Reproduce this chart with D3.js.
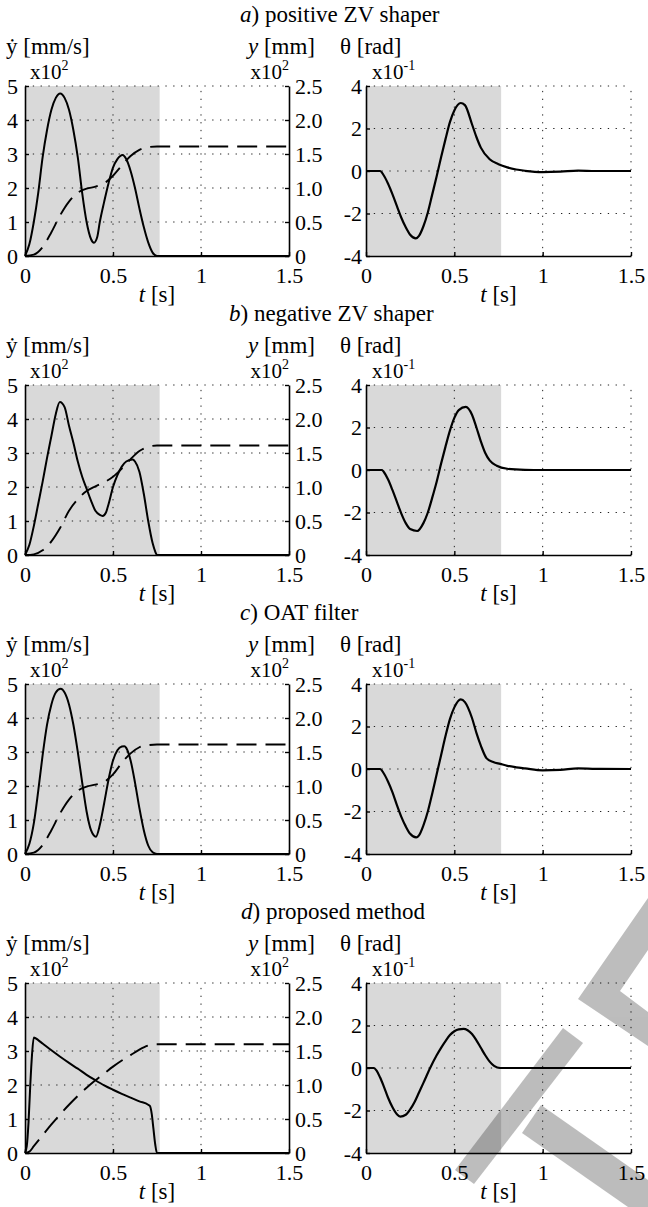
<!DOCTYPE html>
<html>
<head>
<meta charset="utf-8">
<script src="https://cdn.jsdelivr.net/npm/d3@7"></script>
<style>
  body { margin: 0; background: #fff; }
  svg { display: block; }
  svg text { font-family: "Liberation Serif", "Times New Roman", serif !important; fill: #000; }
</style>
</head>
<body>
<script>
'use strict';

// panel titles (letter is italic)
const titleLetters = ["a", "b", "c", "d"];
const titleTexts = [") positive ZV shaper", ") negative ZV shaper", ") OAT filter", ") proposed method"];

// tick values
const timeTicks = [0, 0.5, 1, 1.5];
const velTicks = [0, 1, 2, 3, 4, 5];
const posTicks = [0, 0.5, 1.0, 1.5, 2.0, 2.5];
const angTicks = [-4, -2, 0, 2, 4];

// end of the shaded (input) interval [s]
const shadeEnd = 0.765;

// a) positive ZV shaper
const velTimeA = [0, 0.025, 0.05, 0.075, 0.1, 0.125, 0.15, 0.175, 0.2, 0.225, 0.25, 0.275, 0.3, 0.325, 0.35, 0.375, 0.392, 0.41, 0.425, 0.45, 0.475, 0.5, 0.525, 0.555, 0.575, 0.6, 0.625, 0.65, 0.675, 0.7, 0.725, 0.75, 1.5];
const velA = [0, 0.35, 1.0, 1.85, 2.9, 3.7, 4.3, 4.65, 4.78, 4.65, 4.3, 3.7, 2.9, 1.85, 1.0, 0.5, 0.39, 0.55, 1.0, 1.6, 2.15, 2.6, 2.85, 2.97, 2.85, 2.5, 2.0, 1.4, 0.85, 0.4, 0.1, 0, 0];
const posTimeA = [0, 0.05, 0.1, 0.15, 0.2, 0.25, 0.3, 0.35, 0.4, 0.45, 0.5, 0.55, 0.6, 0.65, 0.7, 0.75, 1.5];
const posA = [0, 0.02, 0.13, 0.35, 0.6, 0.8, 0.93, 0.99, 1.02, 1.07, 1.18, 1.33, 1.47, 1.56, 1.6, 1.61, 1.61];
const angTimeA = [0, 0.05, 0.08, 0.1, 0.125, 0.15, 0.175, 0.2, 0.225, 0.25, 0.282, 0.3, 0.325, 0.35, 0.375, 0.4, 0.425, 0.45, 0.475, 0.5, 0.536, 0.56, 0.6, 0.625, 0.65, 0.7, 0.75, 0.8, 0.85, 0.9, 1.0, 1.1, 1.2, 1.3, 1.5];
const angA = [0, 0, 0, -0.2, -0.6, -1.1, -1.65, -2.2, -2.65, -3.0, -3.17, -3.05, -2.6, -1.95, -1.1, -0.25, 0.65, 1.5, 2.3, 2.85, 3.2, 3.1, 2.2, 1.6, 1.1, 0.55, 0.32, 0.17, 0.07, 0.01, -0.05, -0.03, 0.02, 0, 0];

// b) negative ZV shaper
const velTimeB = [0, 0.025, 0.05, 0.075, 0.1, 0.125, 0.15, 0.175, 0.198, 0.225, 0.25, 0.275, 0.3, 0.325, 0.35, 0.375, 0.4, 0.425, 0.441, 0.46, 0.475, 0.5, 0.525, 0.55, 0.575, 0.612, 0.625, 0.65, 0.675, 0.7, 0.725, 0.74, 0.75, 1.5];
const velB = [0, 0.3, 0.85, 1.5, 2.15, 2.85, 3.5, 4.15, 4.5, 4.35, 3.8, 3.3, 2.75, 2.3, 1.95, 1.6, 1.3, 1.18, 1.15, 1.25, 1.5, 2.0, 2.35, 2.6, 2.75, 2.81, 2.75, 2.45, 1.8, 1.0, 0.35, 0.1, 0, 0];
const posTimeB = [0, 0.05, 0.1, 0.15, 0.2, 0.25, 0.3, 0.35, 0.4, 0.45, 0.5, 0.55, 0.6, 0.65, 0.7, 0.75, 1.5];
const posB = [0, 0.01, 0.07, 0.2, 0.4, 0.65, 0.82, 0.94, 1.01, 1.07, 1.15, 1.27, 1.41, 1.53, 1.59, 1.61, 1.61];
const angTimeB = [0, 0.05, 0.09, 0.1, 0.125, 0.15, 0.175, 0.2, 0.225, 0.25, 0.29, 0.325, 0.35, 0.375, 0.4, 0.425, 0.45, 0.475, 0.5, 0.525, 0.565, 0.6, 0.625, 0.65, 0.675, 0.7, 0.74, 0.8, 0.9, 1.0, 1.5];
const angB = [0, 0, 0, -0.08, -0.45, -0.95, -1.5, -2.05, -2.5, -2.78, -2.87, -2.5, -2.0, -1.3, -0.55, 0.3, 1.1, 1.85, 2.45, 2.82, 2.97, 2.6, 2.0, 1.35, 0.8, 0.45, 0.2, 0.06, 0.01, 0, 0];

// c) OAT filter
const velTimeC = [0, 0.025, 0.05, 0.075, 0.1, 0.125, 0.15, 0.175, 0.203, 0.225, 0.25, 0.275, 0.3, 0.325, 0.35, 0.375, 0.403, 0.425, 0.45, 0.475, 0.5, 0.525, 0.55, 0.565, 0.575, 0.6, 0.625, 0.65, 0.675, 0.7, 0.725, 0.75, 1.5];
const velC = [0, 0.3, 0.9, 1.85, 2.9, 3.8, 4.4, 4.75, 4.86, 4.75, 4.4, 3.8, 3.0, 2.1, 1.25, 0.7, 0.51, 0.85, 1.5, 2.2, 2.75, 3.05, 3.16, 3.17, 3.12, 2.75, 2.1, 1.35, 0.7, 0.25, 0.05, 0, 0];
const posTimeC = [0, 0.05, 0.1, 0.15, 0.2, 0.25, 0.3, 0.35, 0.4, 0.45, 0.5, 0.55, 0.6, 0.65, 0.7, 0.75, 1.5];
const posC = [0, 0.02, 0.13, 0.35, 0.6, 0.8, 0.93, 0.99, 1.02, 1.06, 1.17, 1.34, 1.48, 1.57, 1.6, 1.61, 1.61];
const angTimeC = [0, 0.05, 0.08, 0.1, 0.125, 0.15, 0.175, 0.2, 0.225, 0.25, 0.284, 0.3, 0.325, 0.35, 0.375, 0.4, 0.425, 0.45, 0.475, 0.5, 0.536, 0.56, 0.6, 0.625, 0.65, 0.683, 0.72, 0.76, 0.8, 0.85, 0.9, 1.0, 1.1, 1.2, 1.3, 1.5];
const angC = [0, 0, 0, -0.2, -0.6, -1.1, -1.7, -2.25, -2.7, -3.05, -3.22, -3.12, -2.65, -2.0, -1.15, -0.25, 0.65, 1.55, 2.35, 2.9, 3.28, 3.15, 2.4, 1.7, 1.1, 0.5, 0.33, 0.24, 0.15, 0.08, 0.03, -0.06, -0.04, 0.03, 0.01, 0];

// d) proposed method
const velTimeD = [0, 0.01, 0.02, 0.03, 0.04, 0.05, 0.075, 0.1, 0.15, 0.2, 0.25, 0.3, 0.35, 0.4, 0.45, 0.5, 0.55, 0.6, 0.65, 0.7, 0.71, 0.72, 0.73, 0.74, 0.75, 1.5];
const velD = [0, 0.2, 0.9, 2.0, 2.9, 3.4, 3.32, 3.22, 3.02, 2.83, 2.65, 2.48, 2.3, 2.14, 1.99, 1.86, 1.74, 1.63, 1.52, 1.42, 1.38, 1.15, 0.7, 0.25, 0, 0];
const posTimeD = [0, 0.025, 0.05, 0.1, 0.15, 0.2, 0.25, 0.3, 0.35, 0.4, 0.45, 0.5, 0.55, 0.6, 0.65, 0.7, 0.75, 1.5];
const posD = [0, 0.02, 0.1, 0.26, 0.42, 0.57, 0.71, 0.84, 0.96, 1.07, 1.17, 1.27, 1.36, 1.44, 1.52, 1.58, 1.6, 1.6];
const angTimeD = [0, 0.043, 0.06, 0.08, 0.1, 0.125, 0.15, 0.175, 0.194, 0.225, 0.25, 0.275, 0.3, 0.325, 0.363, 0.4, 0.425, 0.45, 0.475, 0.5, 0.525, 0.552, 0.575, 0.6, 0.625, 0.65, 0.675, 0.7, 0.725, 0.76, 1.5];
const angD = [0, 0, -0.12, -0.45, -0.85, -1.4, -1.85, -2.18, -2.29, -2.2, -1.95, -1.6, -1.15, -0.7, 0, 0.6, 0.95, 1.27, 1.55, 1.73, 1.82, 1.84, 1.78, 1.6, 1.3, 0.95, 0.6, 0.3, 0.1, 0, 0];

// group the rows
const rows = [
  { vt: velTimeA, v: velA, pt: posTimeA, p: posA, at: angTimeA, a: angA },
  { vt: velTimeB, v: velB, pt: posTimeB, p: posB, at: angTimeB, a: angB },
  { vt: velTimeC, v: velC, pt: posTimeC, p: posC, at: angTimeC, a: angC },
  { vt: velTimeD, v: velD, pt: posTimeD, p: posD, at: angTimeD, a: angD }
];

// layout
const W = 648, H = 1207;
const rowTop = [86, 385, 684, 983];
const plotH = 170;
const leftX = [25, 289];
const rightX = [366, 631];
const titleX = [240, 229, 240, 241];
const serif = '"Liberation Serif", "Times New Roman", serif';
const tickFont = "22px";
const labelFont = "23px";

let svg = d3.select("body").append("svg")
  .attr("width", W)
  .attr("height", H)
  .attr("font-family", serif);

svg.append("rect").attr("width", W).attr("height", H).attr("fill", "#fff");

const zip = (ts, vs) => ts.map((t, i) => [t, vs[i]]);

// dotted MATLAB style grid
function drawGrid(g, x, y, xVals, yVals) {
  g.selectAll(".gx").data(xVals).enter().append("line")
    .attr("x1", x).attr("x2", x)
    .attr("y1", y.range()[0]).attr("y2", y.range()[1])
    .attr("stroke", "#222").attr("stroke-width", 1)
    .attr("stroke-dasharray", "1.3,6.5");
  g.selectAll(".gy").data(yVals).enter().append("line")
    .attr("x1", x.range()[0]).attr("x2", x.range()[1])
    .attr("y1", y).attr("y2", y)
    .attr("stroke", "#222").attr("stroke-width", 1)
    .attr("stroke-dasharray", "1.3,6.5");
}

function styleAxis(sel) {
  sel.attr("font-family", serif).attr("font-size", tickFont);
  sel.selectAll("path.domain").attr("stroke", "#000").attr("stroke-width", 1.6);
  sel.selectAll(".tick line").attr("stroke", "#000").attr("stroke-width", 1.4);
  sel.selectAll(".tick text")
    .style("font-family", serif)
    .style("font-size", tickFont)
    .attr("fill", "#000");
}

function supText(g, x, y, base, sup, anchor) {
  let t = g.append("text").attr("x", x).attr("y", y)
    .attr("text-anchor", anchor).style("font-size", "21px");
  t.append("tspan").text(base);
  t.append("tspan").attr("dy", -9).style("font-size", "14px").text(sup);
}

function xLabel(g, cx, y) {
  let t = g.append("text").attr("x", cx).attr("y", y)
    .attr("text-anchor", "middle").style("font-size", labelFont);
  t.append("tspan").style("font-style", "italic").text("t");
  t.append("tspan").text(" [s]");
}

function drawRow(r, i) {
  let top = rowTop[i];
  let bottom = top + plotH;
  let g = svg.append("g");

  // title
  let title = g.append("text").attr("x", titleX[i]).attr("y", top - 64)
    .style("font-size", labelFont);
  title.append("tspan").style("font-style", "italic").text(titleLetters[i]);
  title.append("tspan").text(titleTexts[i]);

  // ---------- left panel: velocity and position ----------
  let x = d3.scaleLinear().domain([0, 1.5]).range(leftX);
  let yV = d3.scaleLinear().domain([0, 5]).range([bottom, top]);
  let yP = d3.scaleLinear().domain([0, 2.5]).range([bottom, top]);

  g.append("rect")
    .attr("x", x(0)).attr("y", top)
    .attr("width", x(shadeEnd) - x(0)).attr("height", plotH)
    .attr("fill", "#d9d9d9");

  drawGrid(g, x, yV, [0.5, 1], [1, 2, 3, 4, 5]);

  let line = d3.line().x(d => x(d[0])).curve(d3.curveMonotoneX);

  g.append("path")
    .datum(zip(r.pt, r.p))
    .attr("d", line.y(d => yP(d[1])))
    .attr("fill", "none").attr("stroke", "#000").attr("stroke-width", 1.9)
    .attr("stroke-dasharray", "20,9");

  g.append("path")
    .datum(zip(r.vt, r.v))
    .attr("d", line.y(d => yV(d[1])))
    .attr("fill", "none").attr("stroke", "#000").attr("stroke-width", 2);

  let axB = g.append("g").attr("transform", `translate(0,${bottom})`)
    .call(d3.axisBottom(x).tickValues(timeTicks).tickSizeInner(-4).tickSizeOuter(0)
      .tickPadding(11).tickFormat(d => String(d)));
  styleAxis(axB);

  let axL = g.append("g").attr("transform", `translate(${leftX[0]},0)`)
    .call(d3.axisLeft(yV).tickValues(velTicks).tickSizeInner(-4).tickSizeOuter(0)
      .tickPadding(7).tickFormat(d => String(d)));
  styleAxis(axL);

  let axR = g.append("g").attr("transform", `translate(${leftX[1]},0)`)
    .call(d3.axisRight(yP).tickValues(posTicks).tickSizeInner(-4).tickSizeOuter(0)
      .tickPadding(6).tickFormat(d => d === 0 ? "0" : d3.format(".1f")(d)));
  styleAxis(axR);

  // axis labels
  g.append("text").attr("x", 6).attr("y", top - 32)
    .style("font-size", labelFont).text("\u1E8F [mm/s]");
  supText(g, 30, top - 7, "x10", "2", "start");

  let lp = g.append("text").attr("x", 315).attr("y", top - 32)
    .attr("text-anchor", "end").style("font-size", labelFont);
  lp.append("tspan").style("font-style", "italic").text("y");
  lp.append("tspan").text(" [mm]");
  supText(g, 289, top - 7, "x10", "2", "end");

  xLabel(g, (leftX[0] + leftX[1]) / 2, bottom + 46);

  // ---------- right panel: angle ----------
  let x2 = d3.scaleLinear().domain([0, 1.5]).range(rightX);
  let yA = d3.scaleLinear().domain([-4, 4]).range([bottom, top]);

  g.append("rect")
    .attr("x", x2(0)).attr("y", top)
    .attr("width", x2(shadeEnd) - x2(0)).attr("height", plotH)
    .attr("fill", "#d9d9d9");

  drawGrid(g, x2, yA, [0.5, 1, 1.5], [-2, 0, 2, 4]);

  let line2 = d3.line().x(d => x2(d[0])).y(d => yA(d[1])).curve(d3.curveMonotoneX);
  g.append("path")
    .datum(zip(r.at, r.a))
    .attr("d", line2)
    .attr("fill", "none").attr("stroke", "#000").attr("stroke-width", 2.2);

  let axB2 = g.append("g").attr("transform", `translate(0,${bottom})`)
    .call(d3.axisBottom(x2).tickValues(timeTicks).tickSizeInner(-4).tickSizeOuter(0)
      .tickPadding(11).tickFormat(d => String(d)));
  styleAxis(axB2);

  let axL2 = g.append("g").attr("transform", `translate(${rightX[0]},0)`)
    .call(d3.axisLeft(yA).tickValues(angTicks).tickSizeInner(-4).tickSizeOuter(0)
      .tickPadding(4).tickFormat(d => String(d)));
  styleAxis(axL2);

  g.append("text").attr("x", 340).attr("y", top - 32)
    .style("font-size", labelFont).text("\u03B8 [rad]");
  supText(g, 372, top - 7, "x10", "-1", "start");

  xLabel(g, (rightX[0] + rightX[1]) / 2, bottom + 46);
}

rows.forEach(drawRow);

// grey watermark in the lower right corner
const markA = [[455, 1170], [474, 1184], [583, 1043], [563, 1028]];
const markB = [[648, 898], [578, 999], [648, 1046], [648, 1012], [620, 991], [648, 950]];
const markC = [[541, 1105], [648, 1180], [648, 1207], [628, 1207], [522, 1133]];

svg.append("g").attr("opacity", 0.26)
  .selectAll("polygon").data([markA, markB, markC]).enter()
  .append("polygon")
  .attr("points", d => d.map(p => p.join(",")).join(" "))
  .attr("fill", "#000");
</script>
</body>
</html>
